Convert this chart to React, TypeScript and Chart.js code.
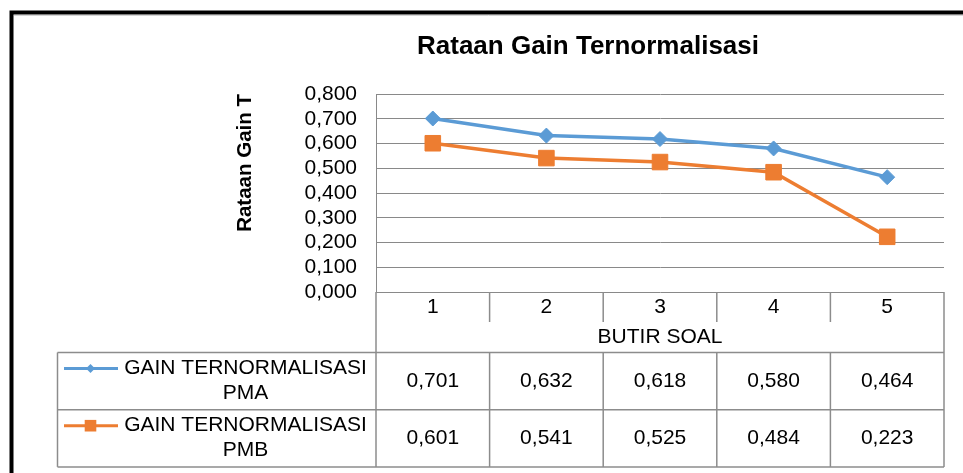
import React, { useEffect, useRef } from 'react';
import { Chart, registerables } from 'chart.js';

Chart.register(...registerables);

// ---- data ----
const categories = ['1', '2', '3', '4', '5'];
const pmaValues = [0.701, 0.632, 0.618, 0.58, 0.464];
const pmbValues = [0.601, 0.541, 0.525, 0.484, 0.223];
const seriesNames = ['GAIN TERNORMALISASI PMA', 'GAIN TERNORMALISASI PMB'];
const chartTitle = 'Rataan Gain Ternormalisasi';
const yAxisTitle = 'Rataan Gain T';
const xAxisTitle = 'BUTIR SOAL';
const yMin = 0;
const yMax = 0.8;
const yStep = 0.1;

const FONT = '"Liberation Sans", Arial, Helvetica, sans-serif';
const BLUE = '#5B9BD5';
const ORANGE = '#ED7D31';
const GRID = '#898989';
const TABLE = '#8c8c8c';

const fmt = (v: number) => v.toFixed(3).replace('.', ',');

function splitName(name: string): string[] {
  const i = name.lastIndexOf(' ');
  return i > 0 ? [name.slice(0, i), name.slice(i + 1)] : [name];
}

const tablePlugin = {
  id: 'excelTable',
  afterDraw(chart: any) {
    const { ctx, chartArea } = chart;
    const xs = chart.scales.x;
    const left = chartArea.left;
    const right = chartArea.right;
    const bottom = chartArea.bottom;
    const n = chart.data.labels.length;
    const bw = (right - left) / n;
    const catRowBottom = bottom + 30;
    const axisRowBottom = bottom + 60.5;
    const rowH = 57.2;
    const legendLeft = 57.5;
    const tableBottom = axisRowBottom + rowH * 2;

    ctx.save();
    // outer border of the chart object
    ctx.strokeStyle = '#000';
    ctx.lineWidth = 4;
    ctx.strokeRect(11.5, 12.5, 2000, 2000);
    ctx.strokeStyle = '#d4d4d4';
    ctx.lineWidth = 1;
    ctx.beginPath();
    ctx.moveTo(14, 15.5);
    ctx.lineTo(chart.width, 15.5);
    ctx.stroke();

    ctx.strokeStyle = TABLE;
    ctx.lineWidth = 1.5;
    const line = (x1: number, y1: number, x2: number, y2: number) => {
      ctx.beginPath();
      ctx.moveTo(x1, y1);
      ctx.lineTo(x2, y2);
      ctx.stroke();
    };
    // vertical borders of category area
    line(left, bottom, left, tableBottom);
    line(right, bottom, right, tableBottom);
    for (let i = 1; i < n; i++) {
      const x = left + i * bw;
      line(x, bottom, x, catRowBottom);
      line(x, axisRowBottom, x, tableBottom);
    }
    line(legendLeft, axisRowBottom, legendLeft, tableBottom);
    line(legendLeft, axisRowBottom, right, axisRowBottom);
    line(legendLeft, axisRowBottom + rowH, right, axisRowBottom + rowH);
    line(legendLeft, tableBottom, right, tableBottom);

    // texts
    ctx.fillStyle = '#000';
    ctx.font = `21px ${FONT}`;
    ctx.textAlign = 'center';
    ctx.textBaseline = 'middle';
    chart.data.labels.forEach((lab: string, i: number) => {
      ctx.fillText(lab, xs.getPixelForValue(i), bottom + 15);
    });
    ctx.fillText(xAxisTitle, (left + right) / 2, bottom + 45.5);

    chart.data.datasets.forEach((ds: any, k: number) => {
      const rowTop = axisRowBottom + rowH * k;
      const cy = rowTop + rowH / 2;
      ds.data.forEach((v: number, i: number) => {
        ctx.fillText(fmt(v), xs.getPixelForValue(i), cy);
      });
      // legend text
      const lines = splitName(ds.label);
      const tx = 245.5;
      const ty = rowTop + 16;
      lines.forEach((t, j) => ctx.fillText(t, tx, ty + j * 25));
      // legend sample
      ctx.strokeStyle = ds.borderColor;
      ctx.lineWidth = 3;
      line(64, ty, 118, ty);
      ctx.fillStyle = ds.borderColor;
      const mx = 90.5;
      if (ds.pointStyle === 'rectRot') {
        const r = 4.5;
        ctx.beginPath();
        ctx.moveTo(mx, ty - r);
        ctx.lineTo(mx + r, ty);
        ctx.lineTo(mx, ty + r);
        ctx.lineTo(mx - r, ty);
        ctx.closePath();
        ctx.fill();
      } else {
        const s = 5.8;
        ctx.fillRect(mx - s, ty - s, 2 * s, 2 * s);
      }
      ctx.fillStyle = '#000';
      ctx.strokeStyle = TABLE;
      ctx.lineWidth = 1.5;
    });
    ctx.restore();
  },
};

export default function App() {
  const ref = useRef<HTMLCanvasElement>(null);

  useEffect(() => {
    if (!ref.current) return;
    const chart = new Chart(ref.current, {
      type: 'line',
      data: {
        labels: categories,
        datasets: [
          {
            label: seriesNames[0],
            data: pmaValues,
            borderColor: BLUE,
            backgroundColor: BLUE,
            borderWidth: 3.5,
            pointStyle: 'rectRot',
            pointRadius: 7.5,
            pointBorderWidth: 1,
            pointBackgroundColor: BLUE,
            pointBorderColor: BLUE,
            tension: 0,
          },
          {
            label: seriesNames[1],
            data: pmbValues,
            borderColor: ORANGE,
            backgroundColor: ORANGE,
            borderWidth: 3.5,
            pointStyle: 'rect',
            pointRadius: 11,
            pointBorderWidth: 1,
            pointBackgroundColor: ORANGE,
            pointBorderColor: ORANGE,
            tension: 0,
          },
        ],
      },
      options: {
        responsive: false,
        animation: false,
        events: [],
        layout: { padding: { left: 232, right: 19, top: 0, bottom: 0 } },
        plugins: {
          legend: { display: false },
          tooltip: { enabled: false },
          title: {
            display: true,
            text: chartTitle,
            color: '#000',
            font: { family: FONT, size: 26, weight: 'bold' },
            padding: { top: 31, bottom: 31.8 },
          },
        },
        scales: {
          x: {
            type: 'category',
            offset: true,
            grid: { display: false },
            border: { display: false },
            ticks: { display: false },
            afterFit: (scale: any) => {
              scale.height = 181;
            },
          },
          y: {
            min: yMin,
            max: yMax,
            grid: { color: GRID, lineWidth: 1, drawTicks: false },
            border: { display: true, color: GRID, width: 1 },
            ticks: {
              stepSize: yStep,
              autoSkip: false,
              padding: 19,
              color: '#000',
              font: { family: FONT, size: 21, lineHeight: 1 },
              callback: (v: any) => fmt(Number(v)),
            },
            title: {
              display: true,
              text: yAxisTitle,
              align: 'end',
              color: '#000',
              font: { family: FONT, size: 20.5, weight: 'bold' },
              padding: { top: 1, bottom: 0 },
            },
            afterFit: (scale: any) => {
              scale.width = 144;
            },
          },
        },
      },
      plugins: [tablePlugin],
    });
    return () => chart.destroy();
  }, []);

  return (
    <div style={{ position: 'absolute', left: 0, top: 0, width: 963, height: 473 }}>
      <canvas ref={ref} width={963} height={473} style={{ display: 'block' }} />
    </div>
  );
}
